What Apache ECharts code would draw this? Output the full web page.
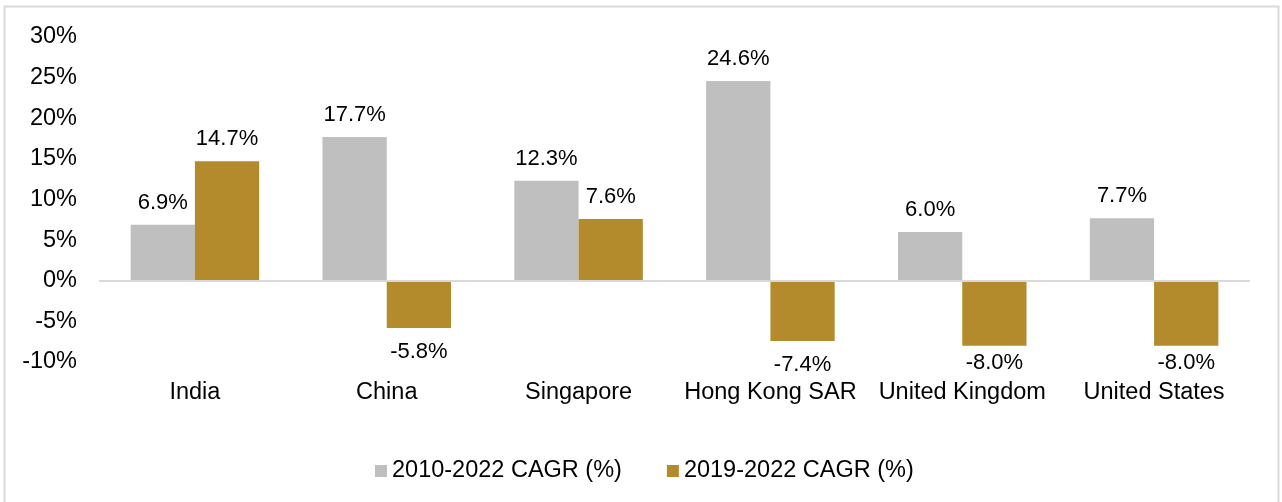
<!DOCTYPE html>
<html>
<head>
<meta charset="utf-8">
<script src="https://cdn.jsdelivr.net/npm/echarts@6/dist/echarts.min.js"></script>
<style>
html,body{margin:0;padding:0;background:#fff;}
#chart{width:1282px;height:502px;}
</style>
</head>
<body>
<div id="chart"></div>
<script>
const categories = ["India", "China", "Singapore", "Hong Kong SAR", "United Kingdom", "United States"];
const cagr2010 = [6.9, 17.7, 12.3, 24.6, 6.0, 7.7];
const cagr2019 = [14.7, -5.8, 7.6, -7.4, -8.0, -8.0];
const seriesNames = ["2010-2022 CAGR (%)", "2019-2022 CAGR (%)"];

const FONT = '"Liberation Sans", Arial, sans-serif';

// Labels of deep negative bars are nudged up so they stay clear of the category labels
function labelFor(v) {
  if (v >= 0) return { position: 'top', distance: 11 };
  return { position: 'bottom', distance: v < -7.5 ? 6 : 13 };
}

function toItems(arr) {
  return arr.map(v => ({ value: v, label: labelFor(v) }));
}

const labelStyle = {
  show: true,
  fontSize: 22,
  color: '#000',
  fontFamily: FONT,
  formatter: p => p.value.toFixed(1) + '%'
};

const chart = echarts.init(document.getElementById('chart'), null, {renderer: 'canvas'});
chart.setOption({
  animation: false,
  backgroundColor: '#ffffff',
  textStyle: { fontFamily: FONT },
  graphic: [{
    type: 'rect',
    shape: { x: 4.5, y: 6.5, width: 1274, height: 500 },
    style: { fill: 'none', stroke: '#d9d9d9', lineWidth: 2 },
    silent: true
  }],
  grid: { left: 99, right: 32, top: 37, bottom: 140, containLabel: false },
  legend: {
    data: seriesNames,
    top: 459,
    left: 375,
    icon: 'rect',
    itemWidth: 12,
    itemHeight: 12,
    itemGap: 45,
    padding: 0,
    textStyle: { fontSize: 23.5, color: '#000', fontFamily: FONT }
  },
  xAxis: {
    type: 'category',
    data: categories,
    axisLine: { show: false, onZero: false },
    axisTick: { show: false },
    axisLabel: { interval: 0, fontSize: 23.5, color: '#000', margin: 19, fontFamily: FONT }
  },
  yAxis: {
    type: 'value',
    min: -10,
    max: 30,
    interval: 5,
    axisLine: { show: false },
    axisTick: { show: false },
    splitLine: { show: false },
    axisLabel: { formatter: '{value}%', fontSize: 23.5, color: '#000', margin: 22, fontFamily: FONT }
  },
  series: [
    {
      name: seriesNames[0],
      type: 'bar',
      data: toItems(cagr2010),
      barGap: '0%',
      barCategoryGap: '33%',
      itemStyle: { color: '#bfbfbf' },
      label: labelStyle,
      markLine: {
        silent: true,
        symbol: 'none',
        label: { show: false },
        lineStyle: { color: '#d9d9d9', type: 'solid', width: 2 },
        data: [{ yAxis: 0 }]
      }
    },
    {
      name: seriesNames[1],
      type: 'bar',
      data: toItems(cagr2019),
      barGap: '0%',
      barCategoryGap: '33%',
      itemStyle: { color: '#b38b2d' },
      label: labelStyle
    }
  ]
});
</script>
</body>
</html>
